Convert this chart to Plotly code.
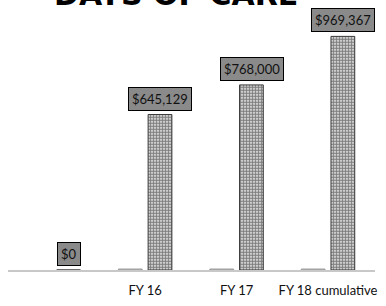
import plotly.graph_objects as go

categories = [" ", "FY 16", "FY 17", "FY 18 cumulative"]
baseline_series = [None, 4000, 4000, 4000]
days_of_care = [0, 645129, 768000, 969367]
value_labels = ["$0", "$645,129", "$768,000", "$969,367"]
title_text = "DAYS OF CARE"

fig = go.Figure()
fig.add_trace(go.Bar(
    x=categories, y=baseline_series,
    marker=dict(color="#bdbdbd", line=dict(color="#9a9a9a", width=1)),
    hoverinfo="skip", showlegend=False,
))
fig.add_trace(go.Bar(
    x=categories, y=days_of_care,
    marker=dict(
        color="#ffffff",
        line=dict(color="#3a3a3a", width=1),
        pattern=dict(shape=".", fgcolor="#000000", bgcolor="#ffffff", size=3, solidity=0.7),
    ),
    showlegend=False,
))

for cat, val, lab in zip(categories, days_of_care, value_labels):
    fig.add_annotation(
        x=cat, y=val, xref="x", yref="y", text=lab, showarrow=False,
        xshift=15, yshift=4, yanchor="bottom",
        font=dict(family="Lato", size=13, color="#111111"),
        bgcolor="#8a8a8a", bordercolor="#000000", borderwidth=1, borderpad=3,
    )

fig.add_annotation(
    x=0.459, y=1, xref="paper", yref="paper", xanchor="center", yanchor="bottom",
    yshift=15, showarrow=False, text="<b>" + title_text + "</b>",
    font=dict(family="DejaVu Sans", size=30, color="#000000"),
)

fig.update_layout(
    width=386, height=306,
    margin=dict(l=8, r=10, t=29, b=30.5),
    paper_bgcolor="white", plot_bgcolor="white",
    barmode="group", bargap=0.35, bargroupgap=0.2,
    xaxis=dict(showline=True, linecolor="#c8c8c8", linewidth=2, ticks="",
               showgrid=False, ticklabelstandoff=7,
               tickfont=dict(family="Lato", size=13, color="#111111")),
    yaxis=dict(range=[0, 1000000], visible=False, showgrid=False),
)

fig.write_html("out.html", config={"displayModeBar": False},
               post_script="document.body.style.margin='0';")
